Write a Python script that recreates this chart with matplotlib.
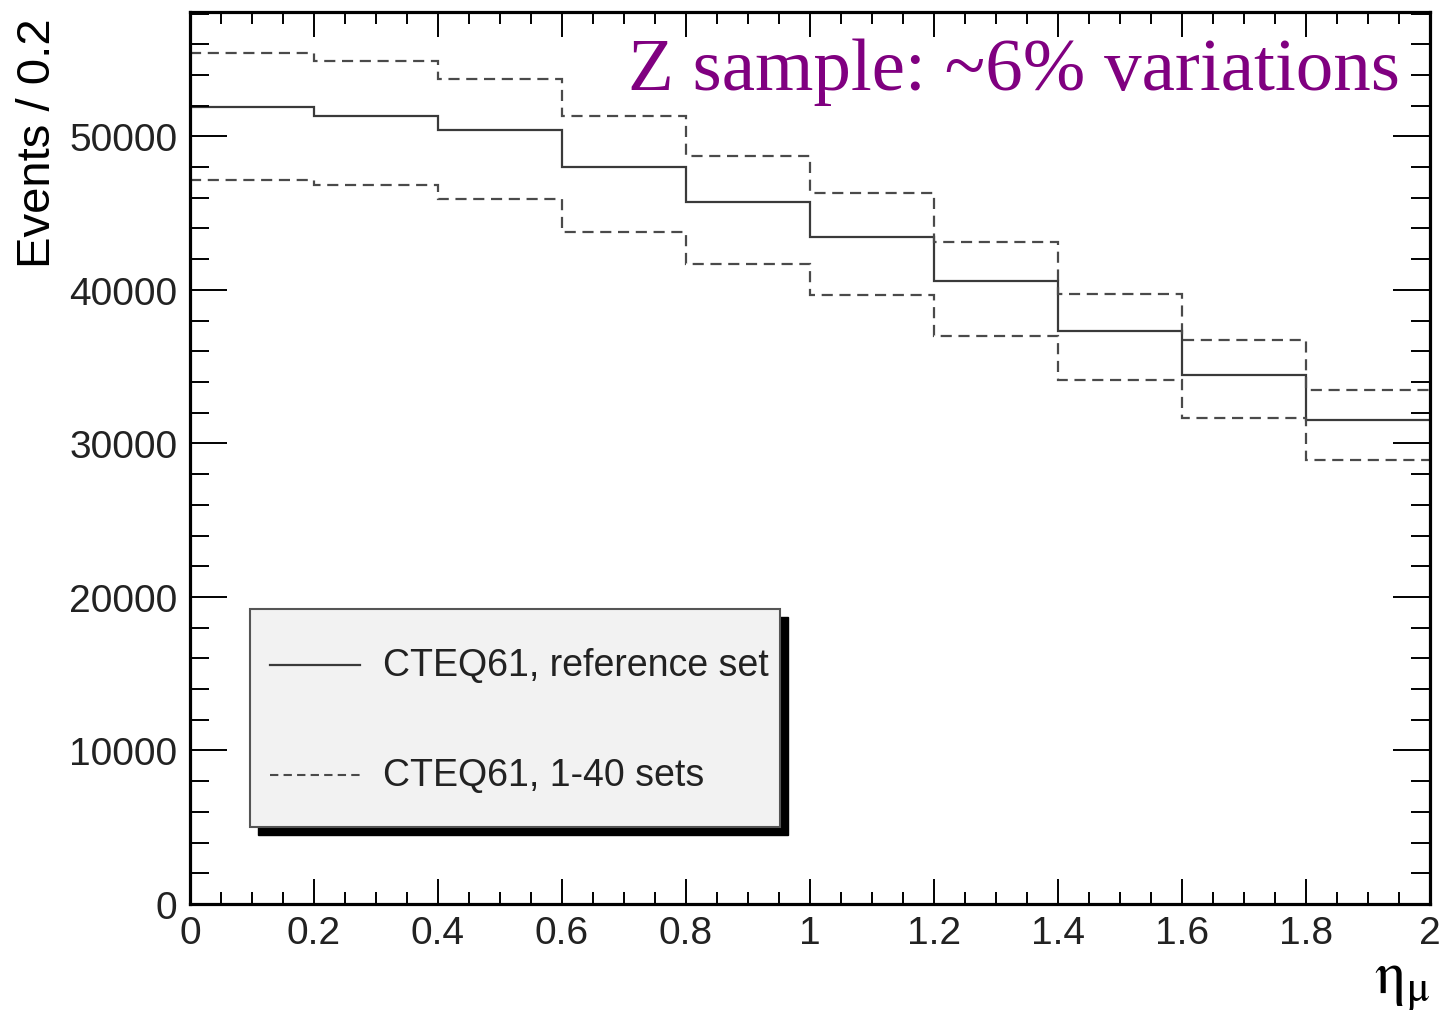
import matplotlib
matplotlib.use("Agg")
import matplotlib.pyplot as plt
from matplotlib.patches import Rectangle
from matplotlib.lines import Line2D
from matplotlib.ticker import MultipleLocator

# ---- data ----
bin_edges = [0.0, 0.2, 0.4, 0.6, 0.8, 1.0, 1.2, 1.4, 1.6, 1.8, 2.0]
reference = [51900, 51300, 50400, 48000, 45700, 43450, 40550, 37300, 34450, 31500]
upper_var = [55400, 54900, 53750, 51300, 48750, 46300, 43150, 39700, 36750, 33500]
lower_var = [47150, 46800, 45950, 43800, 41700, 39650, 37000, 34150, 31650, 28950]
x_ticks = [0, 0.2, 0.4, 0.6, 0.8, 1.0, 1.2, 1.4, 1.6, 1.8, 2.0]
x_tick_labels = ["0", "0.2", "0.4", "0.6", "0.8", "1", "1.2", "1.4", "1.6", "1.8", "2"]
y_ticks = [0, 10000, 20000, 30000, 40000, 50000]
y_tick_labels = ["0", "10000", "20000", "30000", "40000", "50000"]
legend_labels = ["CTEQ61, reference set", "CTEQ61, 1-40 sets"]
title_text = "Z sample: ~6% variations"

plt.rcParams['font.family'] = ['Liberation Sans', 'DejaVu Sans']
plt.rcParams['mathtext.fontset'] = 'stix'

W, H = 1439, 1020
fig = plt.figure(figsize=(W / 100, H / 100), dpi=100)
L, R, B, T = 190, 1430, 905, 13
ax = fig.add_axes([L / W, 1 - B / H, (R - L) / W, (B - T) / H])

line_col = '#3a3a3a'
dash_col = '#4a4a4a'
ax.stairs(reference, bin_edges, baseline=None, color=line_col, lw=1.6)
ax.stairs(upper_var, bin_edges, baseline=None, color=dash_col, lw=1.6, linestyle=(0, (5, 3)))
ax.stairs(lower_var, bin_edges, baseline=None, color=dash_col, lw=1.6, linestyle=(0, (5, 3)))

ax.set_xlim(0, 2)
ax.set_ylim(0, 58100)

ax.set_xticks(x_ticks)
ax.set_xticklabels(x_tick_labels)
ax.set_yticks(y_ticks)
ax.set_yticklabels(y_tick_labels)
ax.xaxis.set_minor_locator(MultipleLocator(0.05))
ax.yaxis.set_minor_locator(MultipleLocator(2000))

ax.tick_params(axis='both', which='both', direction='in', top=True, right=True,
               width=1.4, colors='black', labelsize=28)
ax.tick_params(axis='both', which='major', labelcolor='#222222')
ax.tick_params(axis='x', which='major', length=18, pad=8)
ax.tick_params(axis='x', which='minor', length=8.6)
ax.tick_params(axis='y', which='major', length=26.6, pad=9)
ax.tick_params(axis='y', which='minor', length=13.7)
for s in ax.spines.values():
    s.set_linewidth(2.3)
    s.set_color('black')

# axis titles
fig.text(38 / W, 1 - 18 / H, "Events / 0.2", rotation=90, ha='center', va='top', fontsize=34)
fig.text(1430 / W, 1 - 1012 / H, r"$\mathrm{\eta}_{\mathrm{\mu}}$", ha='right', va='bottom',
         fontsize=44)

# header text
fig.text(1400 / W, 1 - 90 / H, title_text, ha='right', va='baseline',
         fontsize=54, color='#800080', family='Liberation Serif')

# legend box (ROOT style with shadow)
def ax_x(px):
    return (px - L) / (R - L)

def ax_y(py):
    return (B - py) / (B - T)

bx0, bx1, by0, by1 = 250, 780, 610, 828
sh = 8
ax.add_patch(Rectangle((ax_x(bx0 + sh), ax_y(by1 + sh)), ax_x(bx1 + sh) - ax_x(bx0 + sh),
                       ax_y(by0 + sh) - ax_y(by1 + sh), transform=ax.transAxes,
                       facecolor='black', edgecolor='black', zorder=5))
ax.add_patch(Rectangle((ax_x(bx0), ax_y(by1)), ax_x(bx1) - ax_x(bx0), ax_y(by0) - ax_y(by1),
                       transform=ax.transAxes, facecolor='#f2f2f2', edgecolor='#555555',
                       lw=1.5, zorder=6))
rows = [666, 776]
styles = [dict(color=line_col, lw=1.6, linestyle='-'), dict(color=dash_col, lw=1.5, linestyle=(0, (4, 2.5)))]
for yy, lab, st in zip(rows, legend_labels, styles):
    ax.add_line(Line2D([ax_x(270), ax_x(360)], [ax_y(yy), ax_y(yy)], transform=ax.transAxes,
                       zorder=7, **st))
    ax.text(ax_x(383), ax_y(yy), lab, transform=ax.transAxes, ha='left', va='center',
            fontsize=27, color='#222222', zorder=7)

fig.savefig("out.png", dpi=100)
